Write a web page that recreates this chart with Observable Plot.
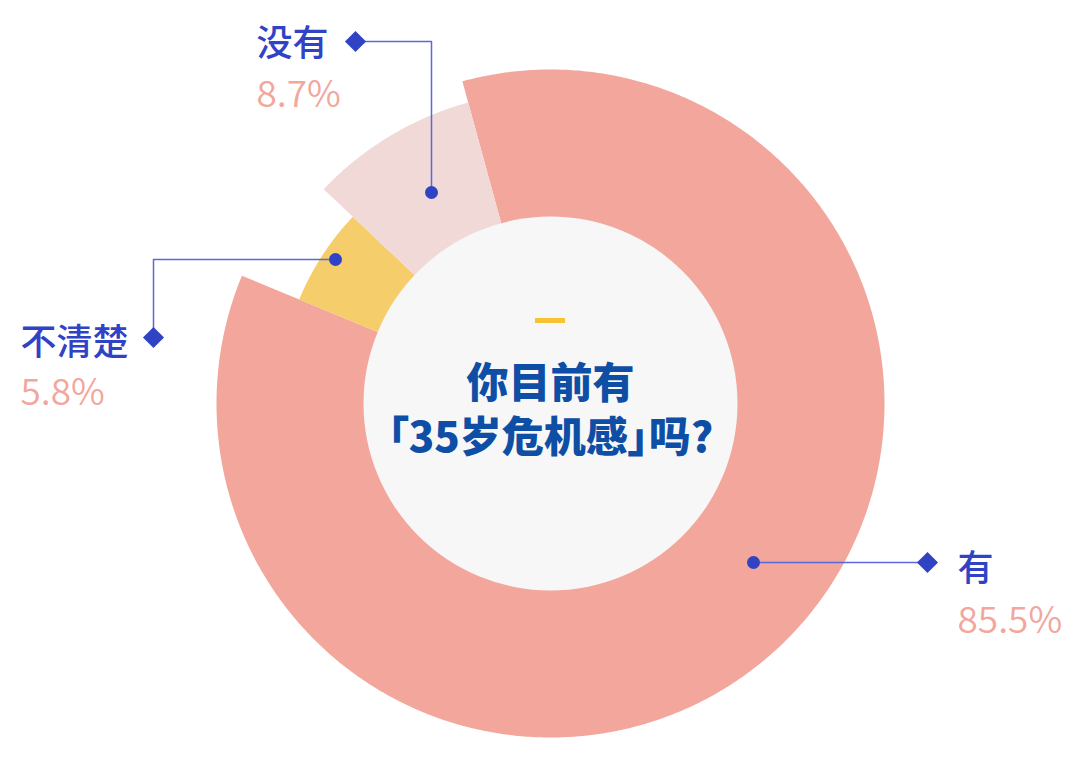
<!DOCTYPE html>
<html>
<head>
<meta charset="utf-8">
<script src="https://cdn.jsdelivr.net/npm/d3@7"></script>
<script src="https://cdn.jsdelivr.net/npm/@observablehq/plot@0.6"></script>
<style>
  html, body { margin: 0; padding: 0; background: #ffffff; }
  #chart { width: 1076px; height: 762px; }
</style>
</head>
<body>
<div id="chart"></div>
<script>
// ---- data ----
const categories = ["有", "不清楚", "没有"];
const values = [85.5, 5.8, 8.7];
const percentLabels = ["85.5%", "5.8%", "8.7%"];
const titleLines = ["你目前有", "「35岁危机感」吗?"];

// ---- layout / style ----
const W = 1076, H = 762;
const CX = 550, CY = 403;             // centre in pixels
const INNER = 187;                    // centre disc radius
const outerRadius = {"有": 334, "不清楚": 272, "没有": 312};
const START = -15.3 * Math.PI / 180;  // first slice starts here (clockwise from north)
const sliceColors = ["#f2a69c", "#f6cd6b", "#f1d9d8"];
const labelBlue = "#2f43c4";
const lineBlue = "#5a68dc";
const pctColor = "#f2a69c";
const titleBlue = "#0e4ea5";
const FONT = "'Noto Sans CJK SC', 'Noto Sans', sans-serif";

// callout geometry (data units: px offsets from centre, y up)
const px = (x, y) => ({x: x - CX, y: CY - y});
const callouts = {
  "有":   {path: [px(753, 562), px(927, 562)], label: px(957, 580), pct: px(957, 632)},
  "没有": {path: [px(431, 192), px(431, 41), px(355, 41)], label: px(256, 55), pct: px(256, 106)},
  "不清楚": {path: [px(335, 259), px(153, 259), px(153, 337)], label: px(20, 354), pct: px(20, 404)}
};

// ---- build arcs ----
const rows = categories.map((c, i) => ({cat: c, value: values[i], pct: percentLabels[i]}));
const arcs = d3.pie().sort(null).value(d => d.value)
  .startAngle(START).endAngle(START + 2 * Math.PI)(rows);

const arcPts = [];
for (const a of arcs) {
  const R = outerRadius[a.data.cat];
  const n = Math.max(4, Math.ceil((a.endAngle - a.startAngle) / (Math.PI / 360)));
  for (let k = 0; k <= n; k++) {
    const t = a.startAngle + (a.endAngle - a.startAngle) * k / n;
    arcPts.push({cat: a.data.cat, x: R * Math.sin(t), y: R * Math.cos(t)});
  }
  for (let k = n; k >= 0; k--) {
    const t = a.startAngle + (a.endAngle - a.startAngle) * k / n;
    arcPts.push({cat: a.data.cat, x: (INNER - 2) * Math.sin(t), y: (INNER - 2) * Math.cos(t)});
  }
}

const leaderPts = [];
const dotPts = [], diamondPts = [], labelRows = [], pctRows = [];
for (const r of rows) {
  const c = callouts[r.cat];
  c.path.forEach(p => leaderPts.push({cat: r.cat, x: p.x, y: p.y}));
  dotPts.push({x: c.path[0].x, y: c.path[0].y});
  const last = c.path[c.path.length - 1];
  diamondPts.push({x: last.x, y: last.y});
  labelRows.push({x: c.label.x, y: c.label.y, text: r.cat});
  pctRows.push({x: c.pct.x, y: c.pct.y, text: r.pct});
}

const chart = Plot.plot({
  width: W,
  height: H,
  margin: 0,
  x: {domain: [-CX, W - CX], axis: null},
  y: {domain: [CY - H, CY], axis: null},
  color: {domain: categories, range: sliceColors},
  style: {background: "#ffffff", fontFamily: FONT, overflow: "visible"},
  marks: [
    Plot.line(arcPts, {x: "x", y: "y", z: "cat", fill: "cat", stroke: "none", curve: "linear-closed"}),
    Plot.dot([{x: 0, y: 0}], {x: "x", y: "y", r: INNER, fill: "#f7f7f7", stroke: "none"}),
    Plot.rect([{x1: -15, x2: 15, y1: 80, y2: 85}], {x1: "x1", x2: "x2", y1: "y1", y2: "y2", fill: "#f7c234"}),
    Plot.text([titleLines.join("\n")], {x: 0, y: CY - 451, text: d => d, lineAnchor: "bottom", textAnchor: "middle",
      lineHeight: 54 / 42, fontSize: 42, fontWeight: 900, fill: titleBlue, fontFamily: FONT}),
    Plot.line(leaderPts, {x: "x", y: "y", z: "cat", stroke: lineBlue, strokeWidth: 1.5}),
    Plot.dot(dotPts, {x: "x", y: "y", r: 6.5, fill: labelBlue, stroke: "none"}),
    Plot.dot(diamondPts, {x: "x", y: "y", r: 9.5, symbol: "diamond2", fill: labelBlue, stroke: "none"}),
    Plot.text(labelRows, {x: "x", y: "y", text: "text", textAnchor: "start", lineAnchor: "bottom",
      fontSize: 36, fontWeight: 500, fill: labelBlue, fontFamily: FONT}),
    Plot.text(pctRows, {x: "x", y: "y", text: "text", textAnchor: "start", lineAnchor: "bottom",
      fontSize: 37, fontWeight: 350, fill: pctColor, fontFamily: FONT})
  ]
});
// proportional punctuation for the title's brackets
d3.select(chart).selectAll("text")
  .filter(function () { return this.textContent.indexOf("35") >= 0; })
  .style("font-feature-settings", "'palt'");
document.getElementById("chart").appendChild(chart);
</script>
</body>
</html>
